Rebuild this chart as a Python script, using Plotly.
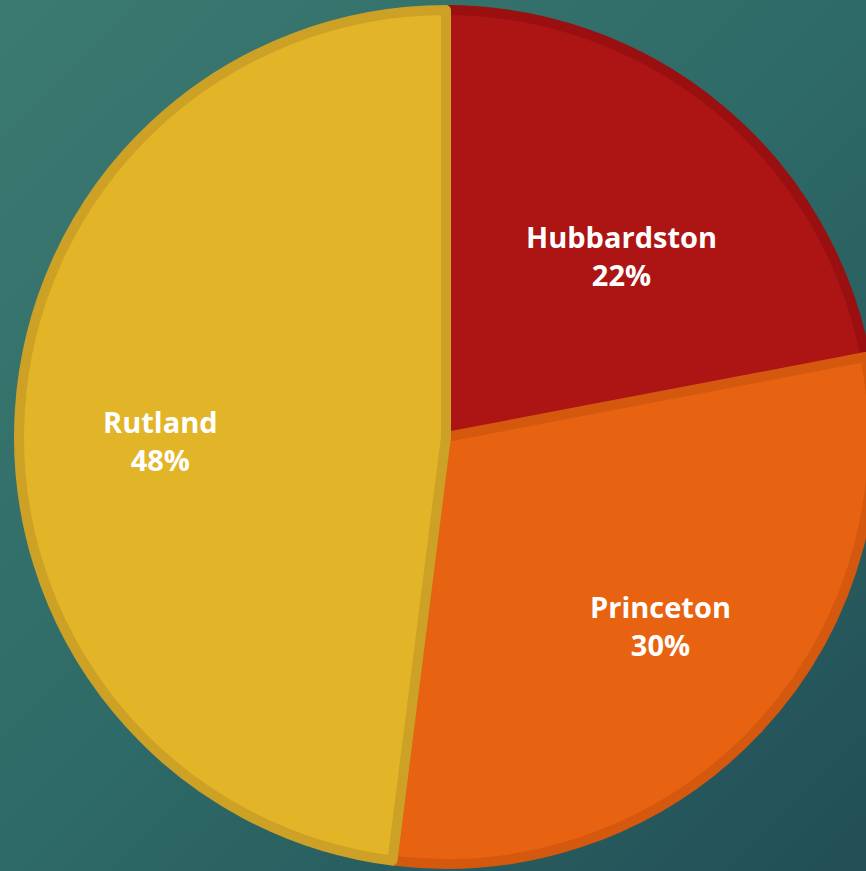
import math
import plotly.graph_objects as go

labels = ["Hubbardston", "Princeton", "Rutland"]
values = [22, 30, 48]
fill_colors = ["#AD1414", "#E86311", "#E2B427"]
edge_colors = ["#9A1010", "#D5580F", "#CCA125"]
label_radius = [0.587, 0.664, 0.663]   # label distance from centre, fraction of radius
label_turn = [4.3, -2.0, -4.4]         # small angular nudge of each label, degrees

W, H = 880, 871          # a bit wider than the window so the pie runs off the right edge
cx, cy, r = 446, 437, 427

bg_svg = (
    "data:image/svg+xml;utf8,"
    "<svg xmlns='http://www.w3.org/2000/svg' width='880' height='871'>"
    "<defs><linearGradient id='g' x1='0' y1='0' x2='1' y2='1'>"
    "<stop offset='0' stop-color='%233B7A71'/>"
    "<stop offset='0.5' stop-color='%232E6A67'/>"
    "<stop offset='1' stop-color='%23224E56'/>"
    "</linearGradient></defs>"
    "<rect width='880' height='871' fill='url(%23g)'/></svg>"
)

fig = go.Figure(
    go.Pie(
        labels=labels,
        values=values,
        sort=False,
        direction="clockwise",
        rotation=0,
        marker=dict(colors=fill_colors, line=dict(color=edge_colors, width=10)),
        textinfo="none",
        hoverinfo="label+percent",
        domain=dict(x=[(cx - r) / W, (cx + r) / W], y=[1 - (cy + r) / H, 1 - (cy - r) / H]),
        showlegend=False,
    )
)

# data labels placed at each slice's mid angle
total = sum(values)
cum = 0
annotations = []
for lab, v, f, t in zip(labels, values, label_radius, label_turn):
    mid = (cum + v / 2) / total * 2 * math.pi + math.radians(t)
    cum += v
    px = cx + f * (r + 3) * math.sin(mid)
    py = cy - f * (r + 3) * math.cos(mid)
    annotations.append(dict(
        x=px / W, y=1 - py / H, xref="paper", yref="paper",
        xanchor="center", yanchor="middle",
        text=f"{lab}<br>{round(v / total * 100)}%",
        showarrow=False, align="center",
        font=dict(family="Open Sans", size=29, color="white", weight="bold"),
    ))

fig.update_layout(
    width=W,
    height=H,
    margin=dict(l=0, r=0, t=0, b=0),
    paper_bgcolor="#306A66",
    plot_bgcolor="rgba(0,0,0,0)",
    images=[dict(source=bg_svg, xref="paper", yref="paper", x=0, y=1, sizex=1, sizey=1,
                 sizing="stretch", layer="below", xanchor="left", yanchor="top")],
    annotations=annotations,
)

fig.write_html(
    "out.html",
    config={"displayModeBar": False},
    post_script="document.body.style.margin='0';document.body.style.overflow='hidden';"
                "document.documentElement.style.overflow='hidden';",
)
